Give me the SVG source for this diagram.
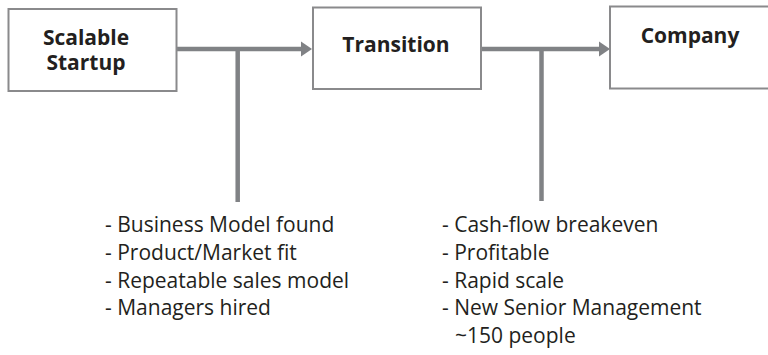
<svg xmlns="http://www.w3.org/2000/svg" width="768" height="355" viewBox="0 0 768 355">
<style>
.box{fill:#ffffff;stroke:#8a8a8c;stroke-width:2}
.title{font-family:"Open Sans","Liberation Sans",sans-serif;font-weight:bold;font-size:21px;fill:#231f20;text-anchor:middle}
.item{font-family:"Open Sans","Liberation Sans",sans-serif;font-size:21px;fill:#231f20}
.conn{stroke:#808285;stroke-width:4.5;fill:none}
.head{fill:#808285}
</style>
<rect width="768" height="355" fill="#ffffff"/>
<g id="connectors">
<line class="conn" x1="177" y1="49" x2="303" y2="49"/>
<polygon class="head" points="301,41.5 312,49 301,56.5"/>
<line class="conn" x1="237.7" y1="49" x2="237.7" y2="202"/>
<line class="conn" x1="481" y1="49" x2="601" y2="49"/>
<polygon class="head" points="599,41.5 610,49 599,56.5"/>
<line class="conn" x1="541.5" y1="49" x2="541.5" y2="201"/>
</g>
<g id="node-scalable-startup">
<rect class="box" x="8.5" y="9" width="168" height="82"/>
<text class="title" x="86" y="45">Scalable</text>
<text class="title" x="86" y="70">Startup</text>
</g>
<g id="node-transition">
<rect class="box" x="313" y="7.5" width="168" height="81.5"/>
<text class="title" x="396" y="52">Transition</text>
</g>
<g id="node-company">
<rect class="box" x="610" y="6.5" width="170" height="82"/>
<text class="title" x="690" y="43">Company</text>
</g>
<g id="list-startup">
<text class="item" x="105" y="232">- Business Model found</text>
<text class="item" x="105" y="260">- Product/Market fit</text>
<text class="item" x="105" y="288">- Repeatable sales model</text>
<text class="item" x="105" y="315">- Managers hired</text>
</g>
<g id="list-transition">
<text class="item" x="442" y="232">- Cash-flow breakeven</text>
<text class="item" x="442" y="260">- Profitable</text>
<text class="item" x="442" y="288">- Rapid scale</text>
<text class="item" x="442" y="315">- New Senior Management</text>
<text class="item" x="455" y="343">~150 people</text>
</g>
</svg>
